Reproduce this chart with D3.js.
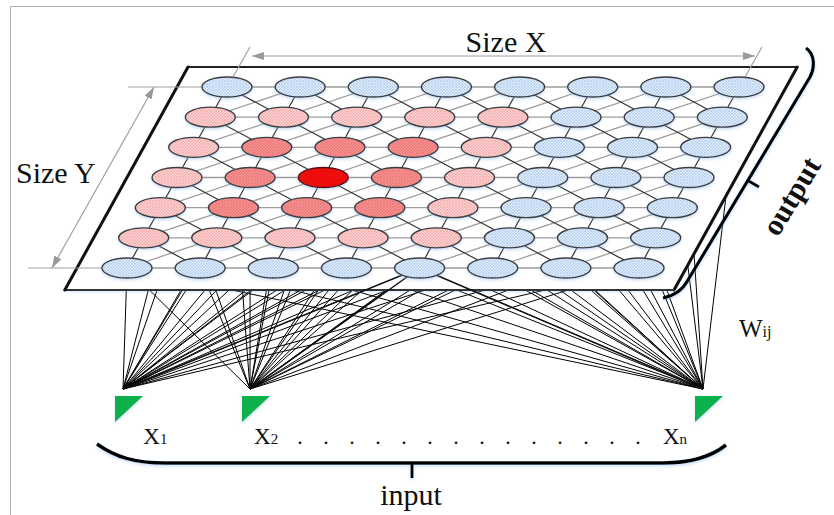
<!DOCTYPE html>
<html><head><meta charset="utf-8">
<script src="https://cdn.jsdelivr.net/npm/d3@7"></script>
<style>html,body{margin:0;padding:0;background:#fff;} svg{display:block;}</style>
</head><body>
<svg id="c" width="834" height="515"></svg>
<script>
// ---------------- data ----------------
const columns = [0,1,2,3,4,5,6,7];      // Size X units
const rows = [0,1,2,3,4,5,6];           // Size Y units
// activation of each map unit: 0 = outside neighbourhood, 1 = outer, 2 = inner, 3 = winner
const activation = [
  [0,0,0,0,0,0,0,0],
  [1,1,1,1,1,0,0,0],
  [1,2,2,2,1,0,0,0],
  [1,2,3,2,1,0,0,0],
  [1,2,2,2,1,0,0,0],
  [1,1,1,1,1,0,0,0],
  [0,0,0,0,0,0,0,0]
];
const inputSubscripts = ["1","2","n"];
const inputSlots = [0, 0.219, 1];          // relative position of the inputs along the input layer
const inputLabelSlots = [0.035, 0.226, 0.931];
const linkedRows = [0,3,6];               // rows whose units are drawn linked to every input
const highlightUnit = [6,4];              // unit whose links are drawn over the map
const dotCount = 14;
const sizeXLabel = "Size X", sizeYLabel = "Size Y";
const outputLabel = "output", inputLabel = "input";
const weightLabel = "W", weightSub = "ij";
const levelFill = ["url(#hBlue)","url(#hPink)","url(#hMid)","#ee0b0b"];

// ---------------- layout ----------------
const svg = d3.select("#c");
const serif = "'Liberation Serif','Times New Roman',serif";
const colX = d3.scaleLinear().domain([0,7]).range([227,739]);
const rowY = d3.scaleLinear().domain([0,6]).range([87,268]);
const skew = d3.scaleLinear().domain([0,6]).range([0,-100]);
const px = (c,r) => colX(c) + skew(r);
const py = r => rowY(r);
const inX = d3.scaleLinear().domain([0,1]).range([123,703]);
const apexY = 389;
const dotX = d3.scaleLinear().domain([0,dotCount-1]).range([300,638]);
const planeC = [-0.684, 7.645], planeR = [-0.663, 6.73];

// ---------------- defs ----------------
const defs = svg.append("defs");
function hatch(id, base, line){
  const p = defs.append("pattern").attr("id",id).attr("patternUnits","userSpaceOnUse")
    .attr("width",3).attr("height",3);
  p.append("rect").attr("width",3).attr("height",3).attr("fill",base);
  p.append("path").attr("d","M0,0L3,3M3,0L0,3").attr("stroke",line).attr("stroke-width",0.6);
}
hatch("hBlue","#e0ecfa","#a9c8ee");
hatch("hPink","#fcd1d1","#f0a5a5");
hatch("hMid","#f69292","#ea7070");
const glow = defs.append("filter").attr("id","glow").attr("x","-20%").attr("y","-20%").attr("width","140%").attr("height","140%");
glow.append("feDropShadow").attr("dx",0).attr("dy",1.5).attr("stdDeviation",1.6)
  .attr("flood-color","#7fb0e6").attr("flood-opacity",0.45);
const mk = defs.append("marker").attr("id","arr").attr("viewBox","0 0 12 8").attr("refX",12).attr("refY",4)
  .attr("markerWidth",12).attr("markerHeight",8).attr("markerUnits","userSpaceOnUse").attr("orient","auto-start-reverse");
mk.append("path").attr("d","M0,0L12,4L0,8Z").attr("fill","#999");

// ---------------- frame ----------------
svg.append("line").attr("x1",10).attr("x2",834).attr("y1",6.5).attr("y2",6.5).attr("stroke","#b0b0b0");
svg.append("line").attr("x1",10.5).attr("x2",10.5).attr("y1",6).attr("y2",515).attr("stroke","#b0b0b0");

// ---------------- links (under the map) ----------------
const links = [];
inputSlots.forEach((s,i) => linkedRows.forEach(r => columns.forEach(c => links.push({i, r, c}))));
svg.append("g").selectAll("line").data(links).join("line")
  .attr("x1", d => inX(inputSlots[d.i])).attr("y1", apexY)
  .attr("x2", d => px(d.c,d.r)).attr("y2", d => py(d.r))
  .attr("stroke","#000").attr("stroke-width",1);

// ---------------- map plane ----------------
const corners = [[planeC[0],planeR[0]],[planeC[1],planeR[0]],[planeC[1],planeR[1]],[planeC[0],planeR[1]]]
  .map(([c,r]) => [px(c,r), py(r)]);
svg.append("polygon").attr("points", corners.map(p=>p.join(",")).join(" "))
  .attr("fill","#fff").attr("filter","url(#glow)");
const edges = [[0,1,"#222",2],[1,2,"#111",3],[2,3,"#333",1.8],[3,0,"#111",3]];
svg.append("g").selectAll("line").data(edges).join("line")
  .attr("x1",d=>corners[d[0]][0]).attr("y1",d=>corners[d[0]][1])
  .attr("x2",d=>corners[d[1]][0]).attr("y2",d=>corners[d[1]][1])
  .attr("stroke",d=>d[2]).attr("stroke-width",d=>d[3]).attr("stroke-linecap","round");

// links drawn over the map for the highlighted unit
svg.append("g").selectAll("line").data(inputSlots).join("line")
  .attr("x1", d => inX(d)).attr("y1", apexY)
  .attr("x2", px(highlightUnit[1],highlightUnit[0])).attr("y2", py(highlightUnit[0]))
  .attr("stroke","#111").attr("stroke-width",1.5);

// ---------------- dimension lines ----------------
const dim = svg.append("g").attr("stroke","#a0a0a0").attr("stroke-width",1.2).attr("fill","none");
dim.append("line").attr("x1",128).attr("x2",px(0,0)-24).attr("y1",py(0)).attr("y2",py(0));
dim.append("line").attr("x1",28).attr("x2",px(0,6)-24).attr("y1",py(6)).attr("y2",py(6));
dim.append("line").attr("x1",52).attr("y1",py(6)).attr("x2",154).attr("y2",py(0))
  .attr("marker-start","url(#arr)").attr("marker-end","url(#arr)");
[0,7].forEach(c => dim.append("line").attr("x1",px(c,0)+6).attr("y1",py(0)-10)
  .attr("x2",px(c,0)+23).attr("y2",py(0)-40));
dim.append("line").attr("x1",252).attr("x2",755).attr("y1",56).attr("y2",56)
  .attr("marker-start","url(#arr)").attr("marker-end","url(#arr)");

// ---------------- grid lines ----------------
const gl = svg.append("g");
const seg = [];
rows.forEach(r => columns.forEach(c => {
  if (c < 7) seg.push({a:[c,r], b:[c+1,r], dark:false});
  if (r > 0 && c < 7) seg.push({a:[c,r], b:[c+1,r-1], dark:false});
}));
rows.forEach(r => columns.forEach(c => {
  if (r < 6) seg.push({a:[c,r], b:[c,r+1], dark:true});
  if (r < 6 && c < 7) seg.push({a:[c,r], b:[c+1,r+1], dark:true});
}));
gl.selectAll("line").data(seg).join("line")
  .attr("x1",d=>px(d.a[0],d.a[1])).attr("y1",d=>py(d.a[1]))
  .attr("x2",d=>px(d.b[0],d.b[1])).attr("y2",d=>py(d.b[1]))
  .attr("stroke",d=>d.dark?"#333":"#9c9c9c").attr("stroke-width",d=>d.dark?1.2:1.3);

// ---------------- units ----------------
const units = [];
rows.forEach(r => columns.forEach(c => units.push({r,c,a:activation[r][c]})));
svg.append("g").attr("filter","url(#glow)").selectAll("ellipse").data(units).join("ellipse")
  .attr("cx",d=>px(d.c,d.r)).attr("cy",d=>py(d.r)).attr("rx",25).attr("ry",10)
  .attr("fill",d=>levelFill[d.a]).attr("stroke",d=>d.a===3?"#5a1010":"#3c3c3c").attr("stroke-width",1.4);

// ---------------- texts ----------------
const txt = svg.append("g").attr("font-family",serif).attr("fill","#111");
txt.append("text").attr("x",506).attr("y",52).attr("text-anchor","middle").attr("font-size",30).text(sizeXLabel);
txt.append("text").attr("x",16).attr("y",183).attr("font-size",30).text(sizeYLabel);
txt.append("text").attr("x",411).attr("y",505).attr("text-anchor","middle").attr("font-size",30).text(inputLabel);
const w = txt.append("text").attr("x",739).attr("y",337).attr("font-size",25);
w.append("tspan").text(weightLabel);
w.append("tspan").attr("font-size",16).text(weightSub);
txt.append("text").attr("transform","translate(791,196) rotate(-59)").attr("text-anchor","middle")
  .attr("dominant-baseline","central").attr("font-size",30).attr("font-weight","bold").text(outputLabel);

inputSubscripts.forEach((s,i) => {
  const t = txt.append("text").attr("x",inX(inputLabelSlots[i])).attr("y",444).attr("font-size",23);
  t.append("tspan").text("X");
  t.append("tspan").attr("font-size",15).text(s);
});
txt.selectAll("text.dot").data(d3.range(dotCount)).join("text").attr("class","dot")
  .attr("x",d=>dotX(d)).attr("y",444).attr("text-anchor","middle").attr("font-size",22).text(".");

// ---------------- input triangles ----------------
svg.append("g").attr("filter","url(#glow)").selectAll("path").data(inputSlots).join("path")
  .attr("d", d => { const x = inX(d); return `M${x-8},396L${x+20},396L${x-8},422Z`; })
  .attr("fill","#10b14b");

// ---------------- braces ----------------
const br = svg.append("g").attr("fill","none").attr("stroke","#000").attr("filter","url(#glow)");
br.append("path").attr("d","M97,444 C115,457 135,463 165,463 L663,463 C690,463 712,456 726,445").attr("stroke-width",3.5);
br.append("line").attr("x1",412).attr("x2",412).attr("y1",463).attr("y2",478).attr("stroke-width",3);
br.append("path").attr("d","M806,48 C815,54 815,68 810,77 L688,280 C682,291 673,296 663,298").attr("stroke-width",3.2);
br.append("line").attr("x1",747).attr("y1",180).attr("x2",759).attr("y2",187).attr("stroke-width",3);
</script>
</body></html>
